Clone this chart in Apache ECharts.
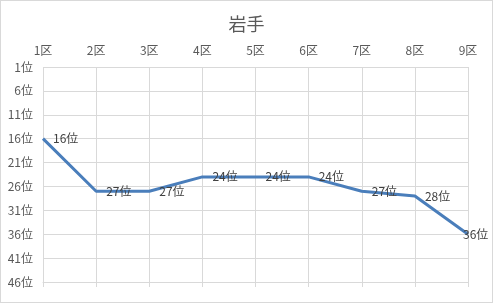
<!DOCTYPE html>
<html><head><meta charset="utf-8">
<script src="https://cdn.jsdelivr.net/npm/echarts@6/dist/echarts.min.js"></script>
<style>
html,body{margin:0;padding:0;background:#fff;}
#c{width:491px;height:301px;border:1px solid #d9d9d9;}
</style></head>
<body><div id="c"></div>
<script>
const title = '岩手';
const categories = ['1区','2区','3区','4区','5区','6区','7区','8区','9区'];
const ranks = [16, 27, 27, 24, 24, 24, 27, 28, 36];
const yMin = 1, yMax = 46, yStep = 5;

const font = '"Noto Sans CJK JP", "Noto Sans", sans-serif';
const seriesData = ranks.map((v, i) => i === ranks.length - 1
  ? {value: v, label: {distance: -5}}
  : v);
const chart = echarts.init(document.getElementById('c'), null, {renderer:'canvas'});
chart.setOption({
  animation: false,
  title: {text: title, left: 'center', top: 9, textStyle: {fontFamily: font, fontSize: 18, fontWeight: 'normal', color: '#595959'}},
  grid: {left: 42, right: 24, top: 66, bottom: 20},
  xAxis: [{
    type: 'category', data: categories, position: 'top', boundaryGap: false,
    axisLine: {show: false}, axisTick: {show: false},
    axisLabel: {fontFamily: font, fontSize: 12, color: '#595959', margin: 11},
    splitLine: {show: true, lineStyle: {color: '#d9d9d9', width: 1}}
  },{
    type: 'category', data: categories, position: 'bottom', boundaryGap: false,
    axisLine: {show: true, lineStyle: {color: '#d9d9d9'}},
    axisTick: {show: true, length: 5, lineStyle: {color: '#d9d9d9'}},
    axisLabel: {show: false}, splitLine: {show: false}
  }],
  yAxis: {
    type: 'value', inverse: true, min: yMin, max: yMax, interval: yStep,
    axisLine: {show: false}, axisTick: {show: false},
    axisLabel: {fontFamily: font, fontSize: 12, color: '#595959', margin: 10, formatter: v => v + '位'},
    splitLine: {show: true, lineStyle: {color: '#d9d9d9', width: 1}}
  },
  series: [{
    type: 'line', data: seriesData, xAxisIndex: 0, showSymbol: true, symbol: 'circle', symbolSize: 0,
    itemStyle: {color: '#4a7ebb'},
    lineStyle: {color: '#4a7ebb', width: 3},
    label: {show: true, position: 'right', distance: 10, fontFamily: font, fontSize: 12, color: '#404040', formatter: p => p.value + '位'}
  }]
});
</script></body></html>
